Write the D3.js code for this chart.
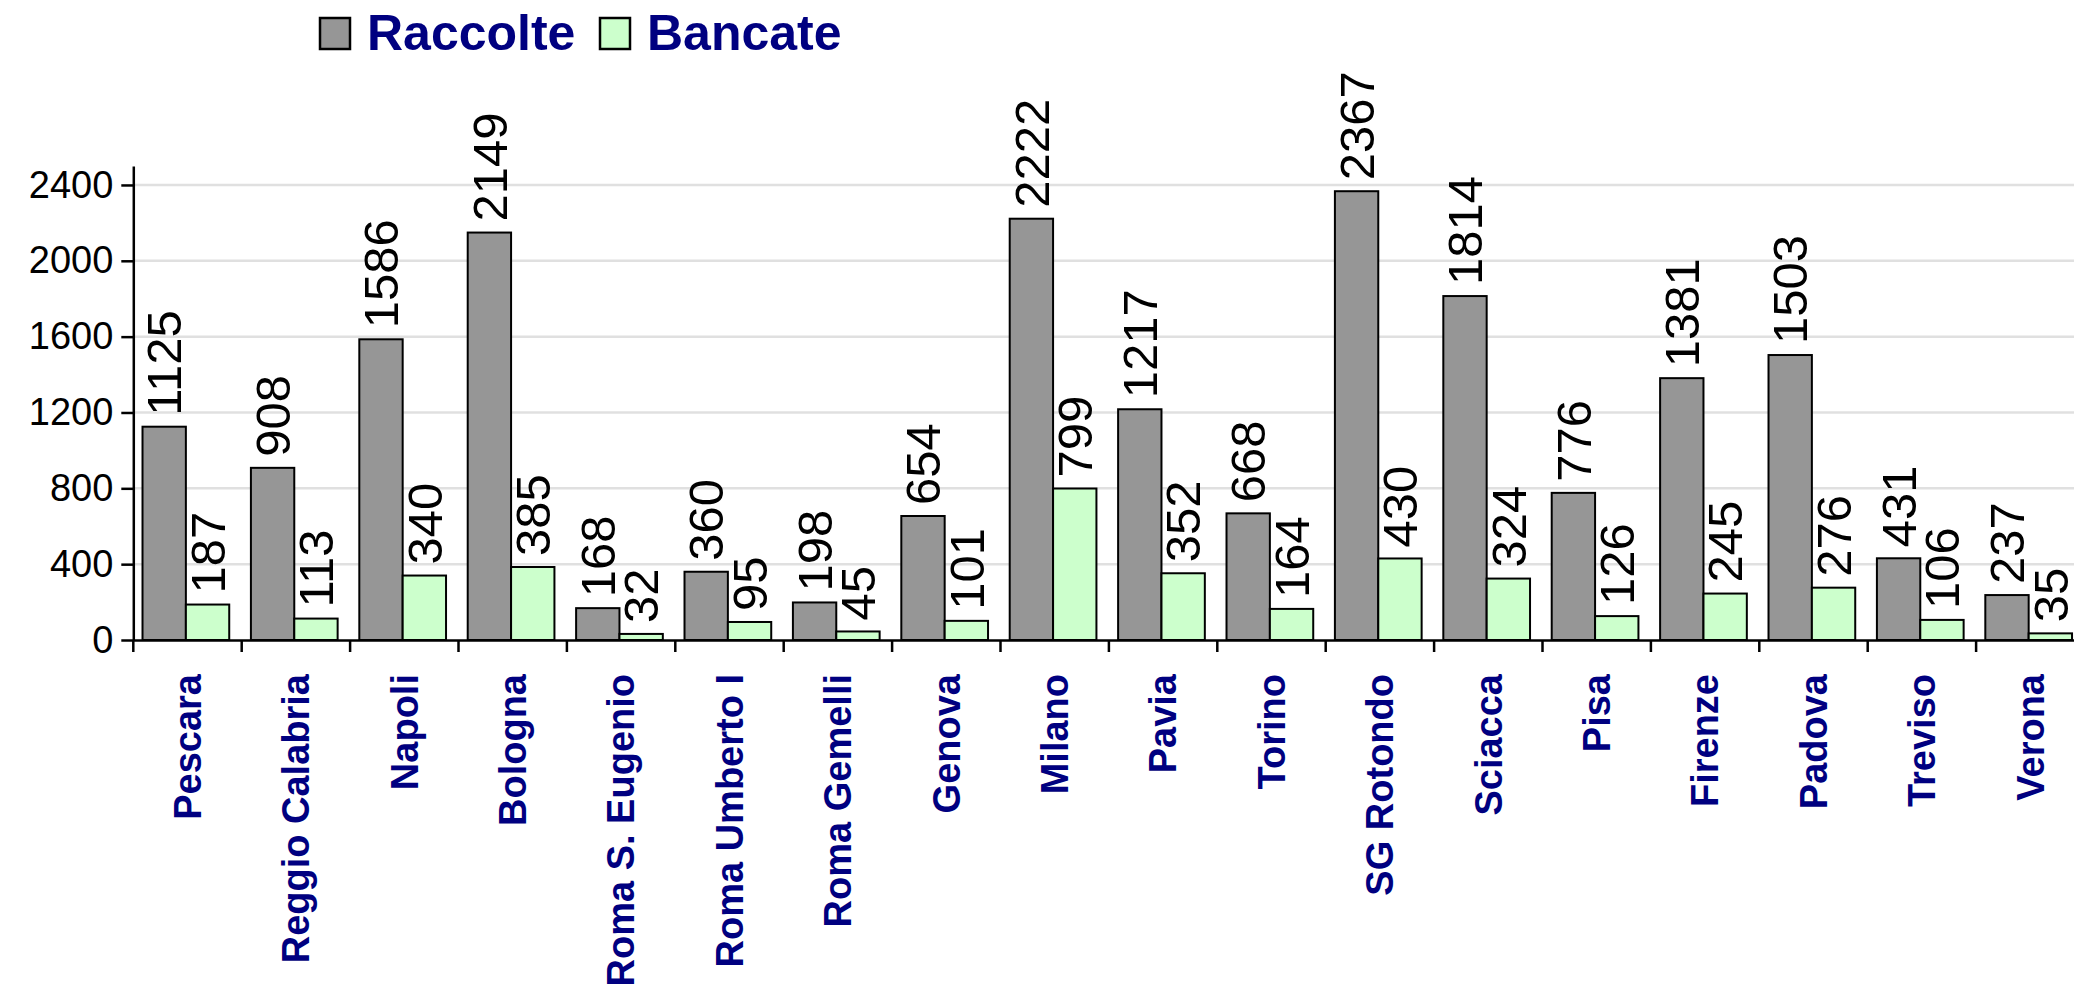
<!DOCTYPE html>
<html>
<head>
<meta charset="utf-8">
<script src="https://cdn.jsdelivr.net/npm/d3@7"></script>
<style>
  html, body { margin: 0; padding: 0; background: #fff; }
  svg { display: block; font-family: "Liberation Sans", Arial, sans-serif; }
</style>
</head>
<body>
<svg id="chart" width="2074" height="988"></svg>
<script>
const categories = [
  'Pescara', 'Reggio Calabria', 'Napoli', 'Bologna', 'Roma S. Eugenio',
  'Roma Umberto I', 'Roma Gemelli', 'Genova', 'Milano', 'Pavia', 'Torino',
  'SG Rotondo', 'Sciacca', 'Pisa', 'Firenze', 'Padova', 'Treviso', 'Verona'
];
const raccolte = [1125, 908, 1586, 2149, 168, 360, 198, 654, 2222, 1217, 668, 2367, 1814, 776, 1381, 1503, 431, 237];
const bancate = [187, 113, 340, 385, 32, 95, 45, 101, 799, 352, 164, 430, 324, 126, 245, 276, 106, 35];
const seriesNames = ['Raccolte', 'Bancate'];
const seriesColors = ['#969696', '#ccffcc'];
const yTicks = [0, 400, 800, 1200, 1600, 2000, 2400];

const svg = d3.select('#chart');

const left = 133.3;
const bandW = 108.4;
const yBottom = 640;
const yTop = 166;

const x0 = d3.scaleBand()
  .domain(categories)
  .range([left, left + bandW * categories.length])
  .padding(0);

const x1 = d3.scaleBand()
  .domain(seriesNames)
  .range([x0.bandwidth() * 0.085, x0.bandwidth() * 0.885])
  .padding(0);

const y = d3.scaleLinear().domain([0, 2500]).range([yBottom, yTop]);

const color = d3.scaleOrdinal().domain(seriesNames).range(seriesColors);

// gridlines
svg.append('g')
  .selectAll('line')
  .data(yTicks.filter((d) => d > 0))
  .join('line')
  .attr('x1', left)
  .attr('x2', 2074)
  .attr('y1', (d) => y(d))
  .attr('y2', (d) => y(d))
  .attr('stroke', '#e0e0e0')
  .attr('stroke-width', 2.5);

// bars
const rows = categories.map((c, i) => ({
  category: c,
  values: [
    { series: 'Raccolte', value: raccolte[i] },
    { series: 'Bancate', value: bancate[i] }
  ]
}));

const groups = svg.append('g')
  .selectAll('g')
  .data(rows)
  .join('g')
  .attr('transform', (d) => `translate(${x0(d.category)},0)`);

groups.selectAll('rect')
  .data((d) => d.values)
  .join('rect')
  .attr('x', (d) => x1(d.series))
  .attr('y', (d) => y(d.value))
  .attr('width', x1.bandwidth())
  .attr('height', (d) => y(0) - y(d.value))
  .attr('fill', (d) => color(d.series))
  .attr('stroke', '#000')
  .attr('stroke-width', 2);

groups.selectAll('text')
  .data((d) => d.values)
  .join('text')
  .attr('transform', (d) => `translate(${x1(d.series) + x1.bandwidth() / 2},${y(d.value) - 11}) rotate(-90)`)
  .attr('dy', '0.35em')
  .attr('text-anchor', 'start')
  .attr('font-size', 49)
  .attr('fill', '#000')
  .text((d) => d.value);

// y axis
const yAxis = svg.append('g')
  .attr('transform', `translate(${left},0)`)
  .call(d3.axisLeft(y).tickValues(yTicks).tickFormat(d3.format('d'))
    .tickSize(12).tickPadding(8).tickSizeOuter(0));
yAxis.select('.domain').attr('stroke', '#000').attr('stroke-width', 2.5);
yAxis.selectAll('.tick line').attr('stroke', '#000').attr('stroke-width', 2.5);
yAxis.selectAll('.tick text')
  .attr('font-size', 38)
  .attr('font-family', '"Liberation Sans", Arial, sans-serif')
  .attr('fill', '#000');

// x axis
const xAxis = svg.append('g')
  .attr('transform', `translate(0,${yBottom})`)
  .call(d3.axisBottom(x0).tickSize(0).tickSizeOuter(0));
xAxis.select('.domain').attr('stroke', '#000').attr('stroke-width', 2.5);
xAxis.selectAll('.tick text')
  .attr('transform', 'rotate(-90)')
  .attr('x', -34)
  .attr('y', 0)
  .attr('dy', '0.35em')
  .attr('text-anchor', 'end')
  .attr('font-size', 38)
  .attr('font-weight', 'bold')
  .attr('font-family', '"Liberation Sans", Arial, sans-serif')
  .attr('fill', '#000080');

xAxis.append('g')
  .selectAll('line')
  .data(categories)
  .join('line')
  .attr('x1', (d) => x0(d))
  .attr('x2', (d) => x0(d))
  .attr('y1', 0)
  .attr('y2', 12)
  .attr('stroke', '#000')
  .attr('stroke-width', 2.5);

// legend
const legend = svg.append('g');
const legendX = [320, 600];
seriesNames.forEach((name, i) => {
  legend.append('rect')
    .attr('x', legendX[i])
    .attr('y', 18)
    .attr('width', 30)
    .attr('height', 31)
    .attr('fill', color(name))
    .attr('stroke', '#000')
    .attr('stroke-width', 2.5);
  legend.append('text')
    .attr('x', legendX[i] + 47)
    .attr('y', 50)
    .attr('font-size', 50)
    .attr('font-weight', 'bold')
    .attr('fill', '#000080')
    .text(name);
});
</script>
</body>
</html>
